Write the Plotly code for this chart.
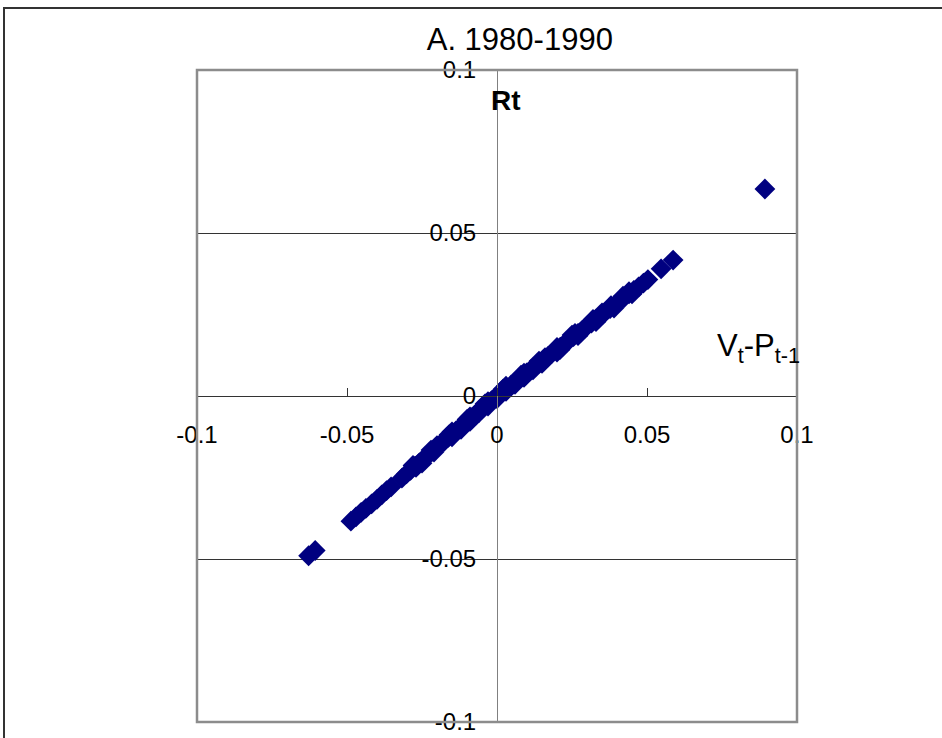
import plotly.graph_objects as go

# Data (V_t - P_{t-1} on x, R_t on y)
vt_minus_p = [
    -0.0628, -0.0606,
    -0.0487, -0.0470, -0.0453, -0.0437,
    -0.0418, -0.0400, -0.0384, -0.0368, -0.0353,
    -0.0317, -0.0302, -0.0288, -0.0273, -0.0259, -0.0244, -0.0230, -0.0216,
    -0.0203, -0.0189, -0.0176, -0.0162, -0.0149, -0.0136, -0.0122, -0.0109,
    -0.0096, -0.0083, -0.0070, -0.0057, -0.0044, -0.0031, -0.0018, -0.0006,
    0.0007, 0.0020, 0.0033, 0.0046, 0.0059, 0.0072, 0.0086, 0.0099,
    0.0113, 0.0127, 0.0141, 0.0155, 0.0169, 0.0183, 0.0197, 0.0211,
    0.0226, 0.0240, 0.0255, 0.0270, 0.0285, 0.0300, 0.0315, 0.0330,
    0.0346, 0.0361, 0.0377, 0.0392, 0.0408, 0.0424, 0.0440, 0.0456,
    0.0472, 0.0488, 0.0503,
    0.0547, 0.0587, 0.0893,
    -0.0250, -0.0200, -0.0150, -0.0120, -0.0090, -0.0060, -0.0030, 0.0000,
    0.0030, 0.0060, 0.0090, 0.0120, 0.0160, 0.0200, 0.0250, 0.0350, 0.0420,
    -0.0280, -0.0220, -0.0160, -0.0100, -0.0040, 0.0020, 0.0080, 0.0140,
    0.0200, 0.0260, 0.0320, 0.0380, 0.0440,
    -0.0270, -0.0210, -0.0150, -0.0090, -0.0030, 0.0030, 0.0090, 0.0150,
    0.0210, 0.0270, 0.0330, 0.0390, 0.0450,
]
rt = [
    -0.0490, -0.0474,
    -0.0384, -0.0371, -0.0357, -0.0345,
    -0.0331, -0.0317, -0.0303, -0.0290, -0.0279,
    -0.0252, -0.0239, -0.0228, -0.0215, -0.0205, -0.0192, -0.0182, -0.0170,
    -0.0160, -0.0148, -0.0139, -0.0127, -0.0118, -0.0106, -0.0096, -0.0086,
    -0.0075, -0.0066, -0.0054, -0.0045, -0.0034, -0.0025, -0.0014, -0.0004,
    0.0005, 0.0015, 0.0024, 0.0033, 0.0042, 0.0051, 0.0061, 0.0071,
    0.0081, 0.0090, 0.0101, 0.0110, 0.0121, 0.0130, 0.0141, 0.0150,
    0.0161, 0.0171, 0.0182, 0.0192, 0.0203, 0.0214, 0.0224, 0.0235,
    0.0246, 0.0257, 0.0268, 0.0279, 0.0290, 0.0302, 0.0313, 0.0324,
    0.0335, 0.0346, 0.0357,
    0.0390, 0.0417, 0.0635,
    -0.0206, -0.0152, -0.0110, -0.0102, -0.0064, -0.0051, -0.0017, -0.0008,
    0.0030, 0.0036, 0.0070, 0.0080, 0.0118, 0.0135, 0.0187, 0.0255, 0.0306,
    -0.0213, -0.0166, -0.0119, -0.0072, -0.0024, 0.0021, 0.0064, 0.0107,
    0.0149, 0.0192, 0.0235, 0.0277, 0.0320,
    -0.0219, -0.0172, -0.0125, -0.0078, -0.0031, 0.0014, 0.0057, 0.0100,
    0.0142, 0.0185, 0.0228, 0.0270, 0.0313,
]

tick_vals = [-0.1, -0.05, 0, 0.05, 0.1]
x_tick_text = ["-0.1", "-0.05", "0", "0.05", "0.1"]
y_tick_text = ["-0.1", "-0.05", "0", "0.05", "0.1"]

FONT = "Liberation Sans, Arial, sans-serif"

fig = go.Figure()
fig.add_trace(go.Scatter(
    x=vt_minus_p, y=rt, mode="markers",
    marker=dict(symbol="diamond", size=16, color="#000080", line=dict(width=0)),
    showlegend=False, hoverinfo="skip",
))

fig.update_layout(
    width=942, height=738, autosize=False,
    margin=dict(l=197, r=145, t=70, b=16, autoexpand=False),
    paper_bgcolor="white", plot_bgcolor="white",
    font=dict(family=FONT, color="black"),
    title=dict(text="A. 1980-1990", x=0.538, xref="paper", xanchor="center",
               y=1 - 39 / 738, yref="container", yanchor="middle",
               font=dict(size=31, family=FONT, color="black")),
    xaxis=dict(range=[-0.1, 0.1], anchor="free", position=0.5, automargin=False,
               showline=True, linecolor="#333333", linewidth=1,
               ticks="inside", ticklen=8, tickcolor="#333333", tickwidth=1,
               tickvals=tick_vals, ticktext=x_tick_text,
               showgrid=False, zeroline=False,
               tickfont=dict(size=24, family=FONT, color="black"),
               ticklabelstandoff=17),
    yaxis=dict(range=[-0.1, 0.1], anchor="free", position=0.5, automargin=False,
               showline=True, linecolor="#808080", linewidth=1,
               ticks="inside", ticklen=8, tickcolor="#333333", tickwidth=1,
               tickvals=tick_vals, ticktext=y_tick_text,
               showgrid=True, gridcolor="#333333", gridwidth=1,
               zeroline=False,
               tickfont=dict(size=24, family=FONT, color="black"),
               ticklabelstandoff=16),
    shapes=[
        dict(type="rect", xref="paper", yref="paper", x0=0, x1=1, y0=0, y1=1,
             line=dict(color="#8c8c8c", width=2.5), layer="above"),
        dict(type="rect", xref="paper", yref="paper",
             x0=(4 - 197) / 600, x1=(950 - 197) / 600,
             y0=(722 - 750) / 652, y1=(722 - 8) / 652,
             line=dict(color="#333333", width=2), layer="below"),
    ],
    annotations=[
        dict(text="<b>Rt</b>", xref="paper", yref="paper",
             x=(506 - 197) / 600, y=(722 - 101) / 652,
             xanchor="center", yanchor="middle", showarrow=False,
             font=dict(size=28, family=FONT, color="black")),
        dict(text="V<sub>t</sub>-P<sub>t-1</sub>", xref="paper", yref="paper",
             x=(715 - 197) / 600, y=(722 - 348) / 652,
             xanchor="left", yanchor="middle", showarrow=False,
             font=dict(size=31, family=FONT, color="black")),
    ],
)

fig.write_html("out.html",
               config={"displayModeBar": False},
               post_script="document.body.style.margin='0';document.body.style.padding='0';")
